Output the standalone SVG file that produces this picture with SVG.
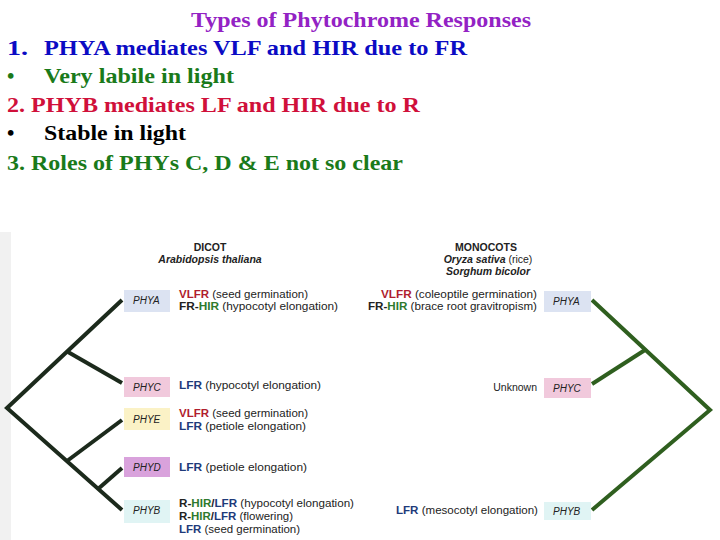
<svg xmlns="http://www.w3.org/2000/svg" width="720" height="540" viewBox="0 0 720 540">
<style>
.h{font-family:"Liberation Serif","Times New Roman",serif;font-weight:bold;font-size:21px}
.s{font-family:"Liberation Sans",Arial,sans-serif;font-size:10.5px;fill:#222}
.b{font-family:"Liberation Sans",Arial,sans-serif;font-size:10px;font-style:italic;fill:#222}
.hd{font-family:"Liberation Sans",Arial,sans-serif;font-size:10.5px;font-weight:bold;fill:#222;text-anchor:middle}
.r{fill:#b01e2e;font-weight:bold}
.g{fill:#2e7a2e;font-weight:bold}
.n{fill:#1e3a7a;font-weight:bold}
.k{font-weight:bold}
.lt{stroke:#1c2a1c;stroke-width:4;fill:none;stroke-linecap:butt}
.rt{stroke:#2f5f1f;stroke-width:4;fill:none;stroke-linecap:butt}
</style>
<rect width="720" height="540" fill="#fff"/>
<rect x="0" y="232" width="11" height="308" fill="#f1f1f1"/>
<g id="heading">
<text class="h" x="191" y="27" fill="#9322c4" textLength="340" lengthAdjust="spacingAndGlyphs">Types of Phytochrome Responses</text>
<text class="h" x="7" y="55" fill="#0b0bc4" textLength="21" lengthAdjust="spacingAndGlyphs">1.</text>
<text class="h" x="44" y="55" fill="#0b0bc4" textLength="423" lengthAdjust="spacingAndGlyphs">PHYA mediates VLF and HIR due to FR</text>
<text class="h" x="7" y="83" fill="#1a7a1a">•</text>
<text class="h" x="44" y="83" fill="#1a7a1a" textLength="190" lengthAdjust="spacingAndGlyphs">Very labile in light</text>
<text class="h" x="7" y="112" fill="#d0103a" textLength="413" lengthAdjust="spacingAndGlyphs">2. PHYB mediates LF and HIR due to R</text>
<text class="h" x="7" y="140" fill="#000">•</text>
<text class="h" x="44" y="140" fill="#000" textLength="142" lengthAdjust="spacingAndGlyphs">Stable in light</text>
<text class="h" x="7" y="170" fill="#1a7a1a" textLength="396" lengthAdjust="spacingAndGlyphs">3. Roles of PHYs C, D &amp; E not so clear</text>
</g>
<g id="connectors">
<polyline class="lt" points="122,300 7,408 122,510"/>
<line class="lt" x1="68" y1="352" x2="122" y2="383"/>
<line class="lt" x1="67" y1="461" x2="122" y2="420"/>
<line class="lt" x1="98" y1="489" x2="122" y2="468"/>
<polyline class="rt" points="592,300 710,410 592,510"/>
<line class="rt" x1="645" y1="350" x2="592" y2="384"/>
</g>
<g id="dicot-header">
<text class="hd" x="210" y="251">DICOT</text>
<text class="hd" x="210" y="263" font-style="italic">Arabidopsis thaliana</text>
</g>
<g id="monocot-header">
<text class="hd" x="486" y="251">MONOCOTS</text>
<text class="s" x="488" y="263" text-anchor="middle"><tspan class="k" font-style="italic">Oryza sativa</tspan> (rice)</text>
<text class="hd" x="488" y="275" font-style="italic">Sorghum bicolor</text>
</g>
<g id="d-phya">
<rect x="124" y="290" width="46" height="22" fill="#dce3f2"/>
<text class="b" x="133" y="304">PHYA</text>
<text class="s" x="179" y="298" textLength="129" lengthAdjust="spacingAndGlyphs"><tspan class="r">VLFR</tspan> (seed germination)</text>
<text class="s" x="179" y="310" textLength="159" lengthAdjust="spacingAndGlyphs"><tspan class="k">FR-</tspan><tspan class="g">HIR</tspan> (hypocotyl elongation)</text>
</g>
<g id="d-phyc">
<rect x="124" y="377" width="46" height="20" fill="#f1c9dc"/>
<text class="b" x="133" y="391">PHYC</text>
<text class="s" x="179" y="389" textLength="142" lengthAdjust="spacingAndGlyphs"><tspan class="n">LFR</tspan> (hypocotyl elongation)</text>
</g>
<g id="d-phye">
<rect x="124" y="408" width="46" height="22" fill="#fbf2c6"/>
<text class="b" x="133" y="423">PHYE</text>
<text class="s" x="179" y="417" textLength="129" lengthAdjust="spacingAndGlyphs"><tspan class="r">VLFR</tspan> (seed germination)</text>
<text class="s" x="179" y="430" textLength="127" lengthAdjust="spacingAndGlyphs"><tspan class="n">LFR</tspan> (petiole elongation)</text>
</g>
<g id="d-phyd">
<rect x="124" y="457" width="46" height="20" fill="#d9a2dc"/>
<text class="b" x="133" y="471">PHYD</text>
<text class="s" x="179" y="471" textLength="128" lengthAdjust="spacingAndGlyphs"><tspan class="n">LFR</tspan> (petiole elongation)</text>
</g>
<g id="d-phyb">
<rect x="124" y="500" width="46" height="23" fill="#e0f4f4"/>
<text class="b" x="133" y="514">PHYB</text>
<text class="s" x="179" y="507" textLength="175" lengthAdjust="spacingAndGlyphs"><tspan class="k">R-</tspan><tspan class="g">HIR</tspan><tspan class="k">/</tspan><tspan class="n">LFR</tspan> (hypocotyl elongation)</text>
<text class="s" x="179" y="520" textLength="114" lengthAdjust="spacingAndGlyphs"><tspan class="k">R-</tspan><tspan class="g">HIR</tspan><tspan class="k">/</tspan><tspan class="n">LFR</tspan> (flowering)</text>
<text class="s" x="179" y="533" textLength="121" lengthAdjust="spacingAndGlyphs"><tspan class="n">LFR</tspan> (seed germination)</text>
</g>
<g id="m-phya">
<rect x="544" y="291" width="47" height="21" fill="#dce3f2"/>
<text class="b" x="553" y="305">PHYA</text>
<text class="s" x="381" y="298" textLength="156" lengthAdjust="spacingAndGlyphs"><tspan class="r">VLFR</tspan> (coleoptile germination)</text>
<text class="s" x="368" y="310" textLength="169" lengthAdjust="spacingAndGlyphs"><tspan class="k">FR-</tspan><tspan class="g">HIR</tspan> (brace root gravitropism)</text>
</g>
<g id="m-phyc">
<rect x="544" y="378" width="47" height="20" fill="#f1c9dc"/>
<text class="b" x="553" y="392">PHYC</text>
<text class="s" x="537" y="391" text-anchor="end">Unknown</text>
</g>
<g id="m-phyb">
<rect x="544" y="502" width="47" height="18" fill="#e0f4f4"/>
<text class="b" x="553" y="515">PHYB</text>
<text class="s" x="396" y="514" textLength="142" lengthAdjust="spacingAndGlyphs"><tspan class="n">LFR</tspan> (mesocotyl elongation)</text>
</g>
</svg>
